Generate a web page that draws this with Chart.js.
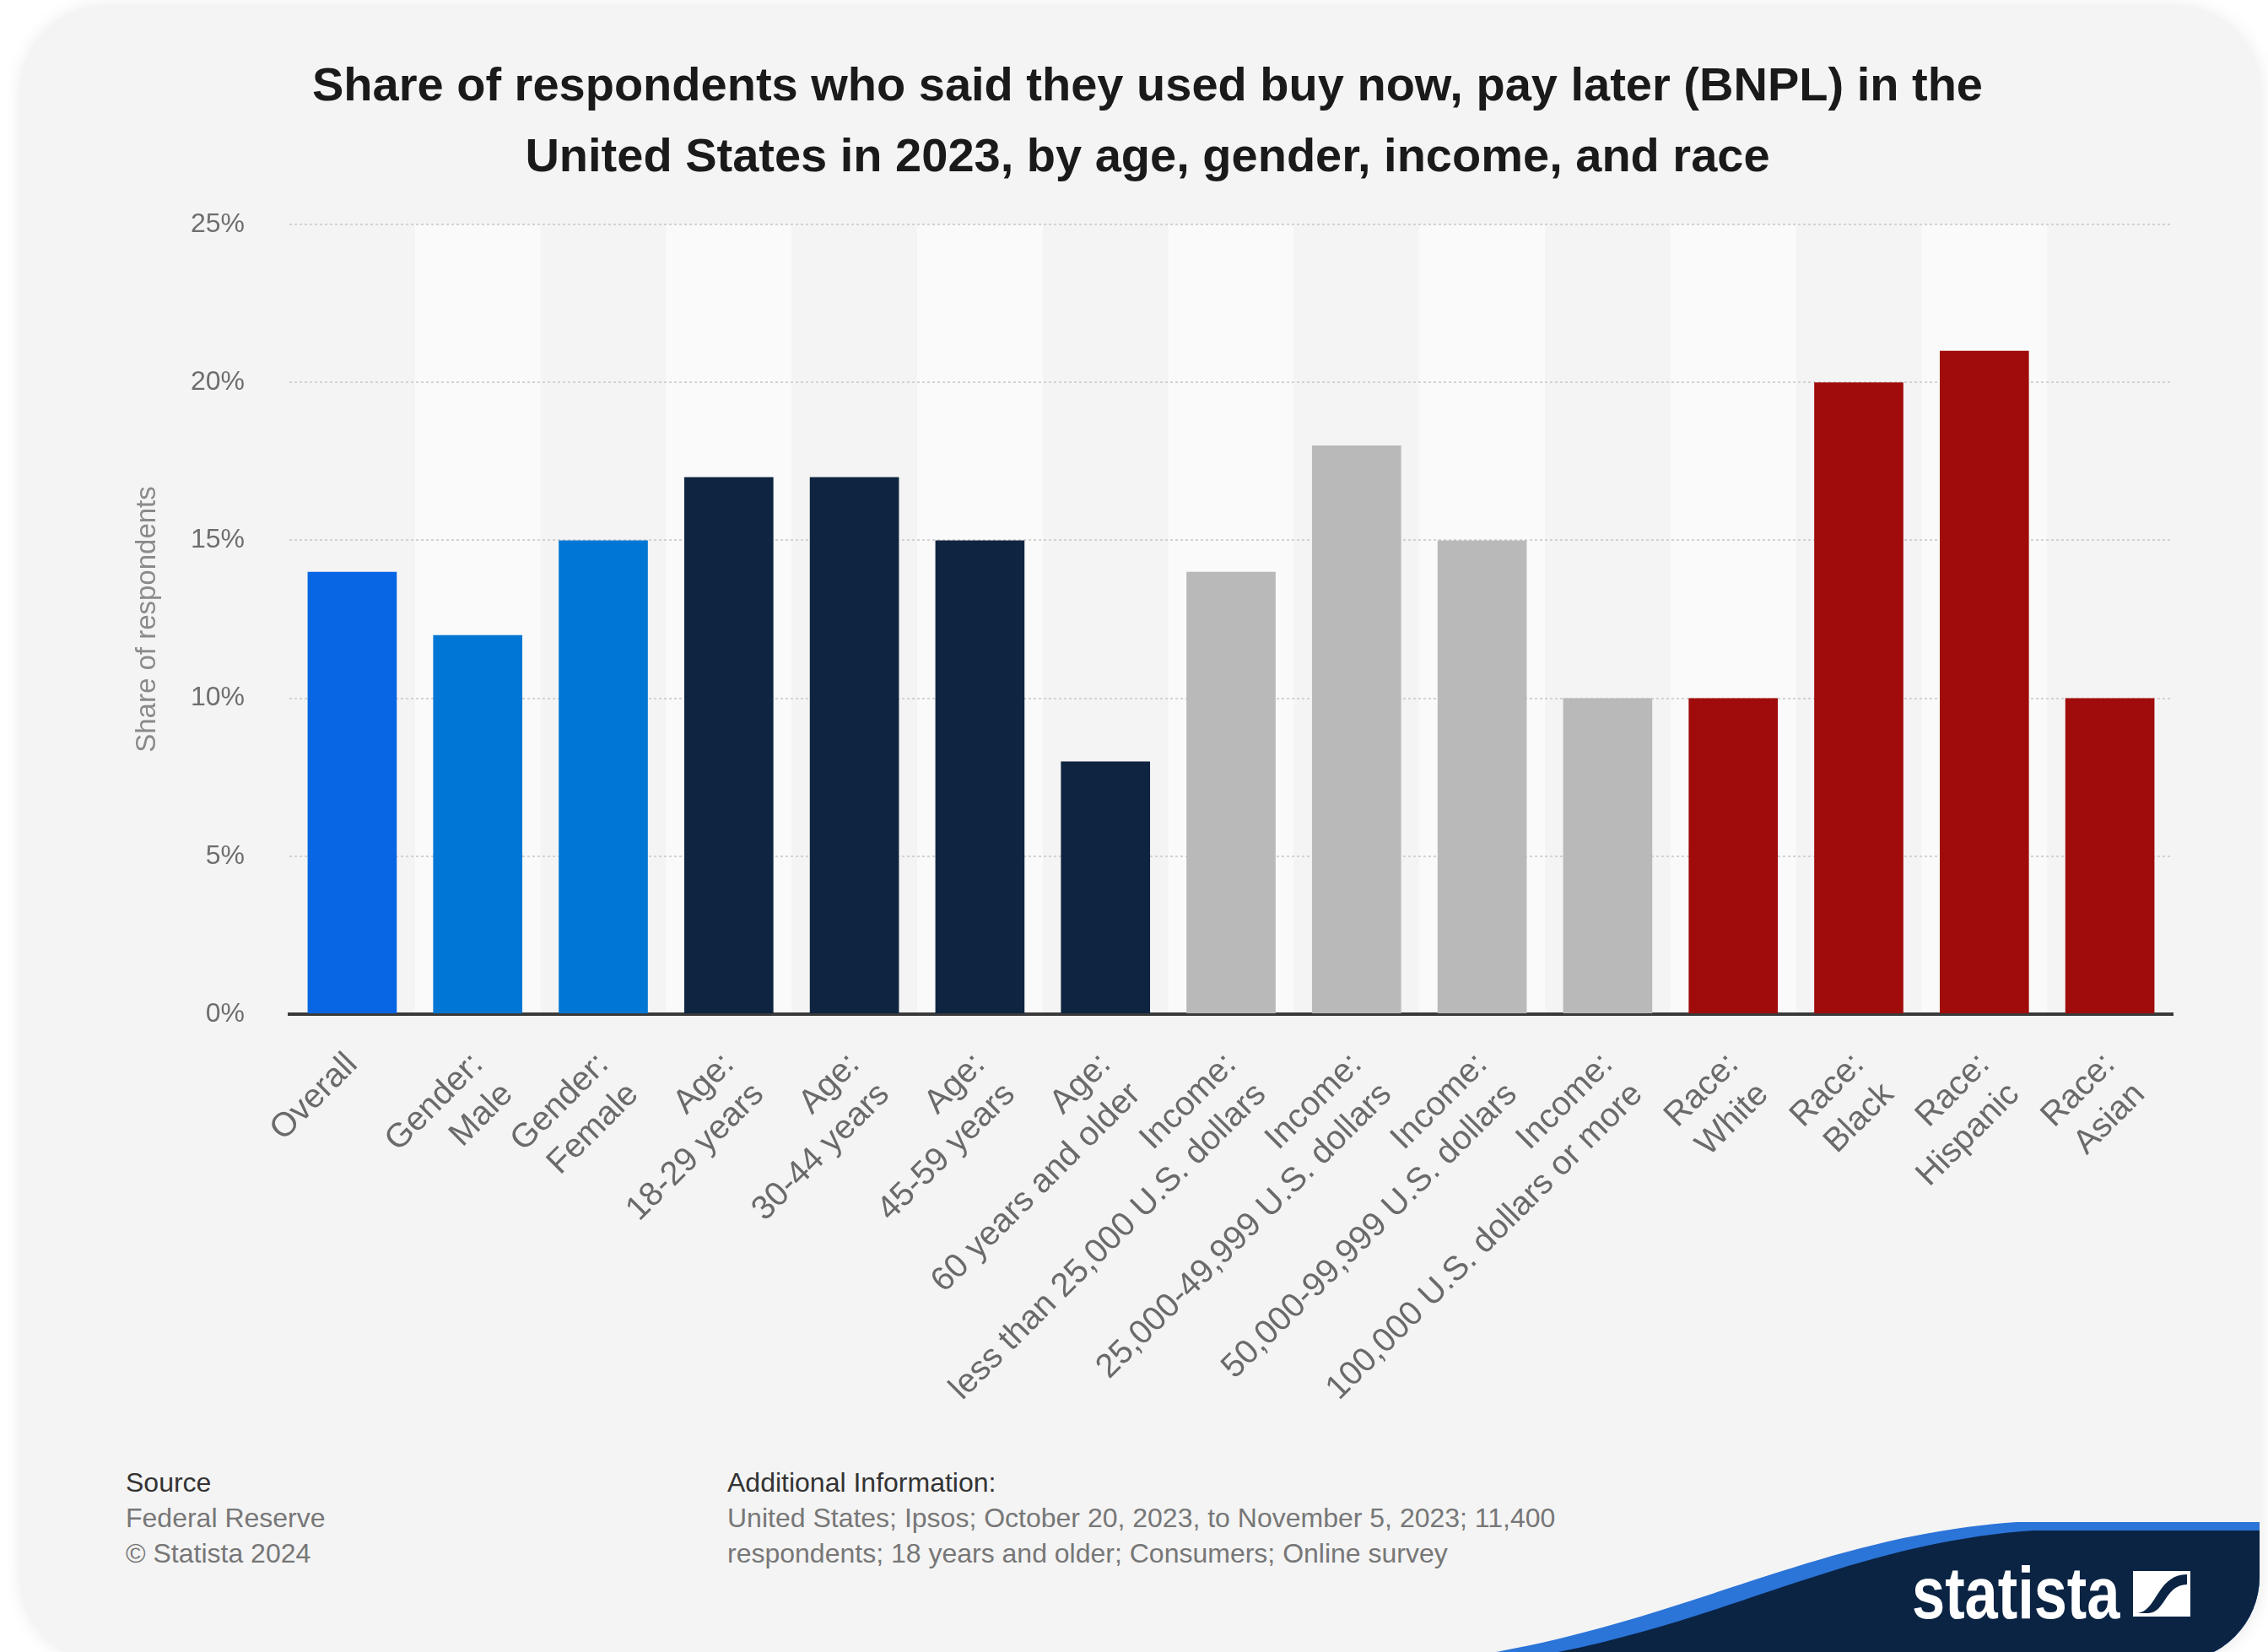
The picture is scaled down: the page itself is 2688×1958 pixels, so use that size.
<!DOCTYPE html>
<html>
<head>
<meta charset="utf-8">
<script src="https://cdn.jsdelivr.net/npm/chart.js@4.4.1/dist/chart.umd.min.js"></script>
<style>
  html, body { margin: 0; padding: 0; background: #ffffff; }
  body { width: 2688px; height: 1958px; position: relative; overflow: hidden; font-family: "Liberation Sans", Arial, sans-serif; }
  #card {
    position: absolute; left: 26px; top: 9px; width: 2652px; height: 1960px;
    background: #f4f4f4; border-radius: 100px; overflow: hidden;
    box-shadow: 0 0 22px rgba(0,0,0,0.10);
  }
  #title {
    position: absolute; left: 16px; top: 58px; width: 2688px;
    text-align: center; font-weight: bold; font-size: 56px; line-height: 84px; color: #1a1a1a;
  }
  .foot { position: absolute; top: 1736px; font-size: 32px; line-height: 42px; color: #777; }
  .foot b { font-weight: normal; color: #333; }
  #logo { position: absolute; left: 0; top: 0; }
  #chart { position: absolute; left: 0; top: 0; }
</style>
</head>
<body>
<div id="card">
  <svg id="logo" width="2652" height="1960" viewBox="26 9 2652 1960">
    <path d="M 1710 1968 C 1990 1930, 2140 1822, 2390 1804 L 2688 1804 L 2688 1968 Z" fill="#2b74d8"/>
    <path d="M 1790 1968 C 2040 1930, 2180 1830, 2410 1814 L 2688 1814 L 2688 1968 Z" fill="#0b2444"/>
    <text x="2266" y="1918" fill="#ffffff" font-family="Liberation Sans, Arial" font-weight="bold" font-size="88" transform="translate(2266 0) scale(0.8 1) translate(-2266 0)">statista</text>
    <rect x="2528" y="1862" width="68" height="54" fill="#ffffff"/>
    <path d="M 2532 1912 C 2556 1912, 2556 1866, 2592 1866 L 2592 1878 C 2566 1878, 2566 1912, 2546 1912 Z" fill="#0b2444"/>
  </svg>
</div>
<div id="title">Share of respondents who said they used buy now, pay later (BNPL) in the<br>United States in 2023, by age, gender, income, and race</div>
<div class="foot" style="left:149px"><b>Source</b><br>Federal Reserve<br>© Statista 2024</div>
<div class="foot" style="left:862px"><b>Additional Information:</b><br>United States; Ipsos; October 20, 2023, to November 5, 2023; 11,400<br>respondents; 18 years and older; Consumers; Online survey</div>
<canvas id="chart" width="2688" height="1958"></canvas>
<script>
// Donnees du graphique
const categories = [
  'Overall',
  ['Gender:', 'Male'],
  ['Gender:', 'Female'],
  ['Age:', '18-29 years'],
  ['Age:', '30-44 years'],
  ['Age:', '45-59 years'],
  ['Age:', '60 years and older'],
  ['Income:', 'less than 25,000 U.S. dollars'],
  ['Income:', '25,000-49,999 U.S. dollars'],
  ['Income:', '50,000-99,999 U.S. dollars'],
  ['Income:', '100,000 U.S. dollars or more'],
  ['Race:', 'White'],
  ['Race:', 'Black'],
  ['Race:', 'Hispanic'],
  ['Race:', 'Asian']
];
const shares = [14, 12, 15, 17, 17, 15, 8, 14, 18, 15, 10, 10, 20, 21, 10];
const yTicks = [0, 5, 10, 15, 20, 25];

const barColors = [
  '#0866e4',
  '#0077d4', '#0077d4',
  '#0f2440', '#0f2440', '#0f2440', '#0f2440',
  '#b9b9b9', '#b9b9b9', '#b9b9b9', '#b9b9b9',
  '#a00b0b', '#a00b0b', '#a00b0b', '#a00b0b'
];

// bandes alternees derriere les barres
const bandsPlugin = {
  id: 'bands',
  beforeDraw(chart) {
    const { ctx, chartArea, scales } = chart;
    const x = scales.x;
    const half = (x.getPixelForValue(1) - x.getPixelForValue(0)) / 2;
    ctx.save();
    ctx.fillStyle = '#fafafa';
    for (let i = 1; i < categories.length; i += 2) {
      const c = x.getPixelForValue(i);
      ctx.fillRect(c - half, chartArea.top, half * 2, chartArea.bottom - chartArea.top);
    }
    ctx.restore();
  }
};

const ctx = document.getElementById('chart');
new Chart(ctx, {
  type: 'bar',
  data: {
    labels: categories,
    datasets: [{
      label: 'Share of respondents',
      data: shares,
      backgroundColor: barColors,
      borderWidth: 0,
      categoryPercentage: 1,
      barPercentage: 0.71
    }]
  },
  options: {
    responsive: false,
    animation: false,
    devicePixelRatio: 1,
    layout: { padding: { top: 266, bottom: 200, left: 0, right: 113 } },
    plugins: {
      legend: { display: false },
      tooltip: { enabled: false }
    },
    scales: {
      x: {
        grid: { display: false },
        border: { display: true, color: '#3a3a3a', width: 4 },
        ticks: {
          autoSkip: false,
          maxRotation: 45,
          minRotation: 45,
          padding: 28,
          color: '#6a6a6a',
          font: { family: 'Liberation Sans, Arial', size: 40, lineHeight: 1.25 }
        },
        afterFit(scale) { scale.height = 556; }
      },
      y: {
        min: 0,
        max: 25,
        afterBuildTicks(scale) { scale.ticks = yTicks.map(v => ({ value: v })); },
        grid: {
          drawTicks: false,
          lineWidth: 2,
          color: c => (c.tick && c.tick.value === 0) ? 'rgba(0,0,0,0)' : '#d2d2d2'
        },
        border: { display: false, dash: [3, 3] },
        ticks: {
          padding: 53,
          color: '#6e6e6e',
          font: { family: 'Liberation Sans, Arial', size: 32 },
          callback: v => v + '%'
        },
        title: {
          display: true,
          text: 'Share of respondents',
          color: '#8a8a8a',
          font: { family: 'Liberation Sans, Arial', size: 33 },
          padding: { top: 155, bottom: 0 }
        },
        afterFit(scale) { scale.width = 343; }
      }
    }
  },
  plugins: [bandsPlugin]
});
</script>
</body>
</html>
